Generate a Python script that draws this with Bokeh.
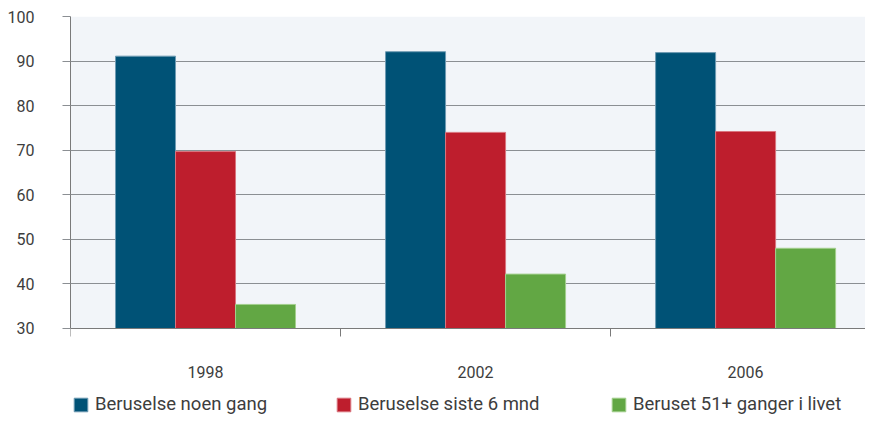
from bokeh.plotting import figure
from bokeh.models import Range1d, FixedTicker, Legend, LegendItem, BoxAnnotation
from bokeh.embed import file_html
from bokeh.resources import INLINE

years = ["1998", "2002", "2006"]
series_names = ["Beruselse noen gang", "Beruselse siste 6 mnd", "Beruset 51+ ganger i livet"]
noen_gang = [91.1, 92.1, 91.9]
siste_6_mnd = [69.7, 74.0, 74.2]
beruset_51 = [35.4, 42.2, 48.0]
y_ticks = [30, 40, 50, 60, 70, 80, 90, 100]
y_min, y_max = 30, 100

colors = ["#005276", "#be1e2d", "#62a744"]
edge_colors = ["#6f9bb3", "#d9757e", "#a3cf8d"]
FONT = "Roboto"
TEXT = "#3d3d3d"
GRID = "#8b8f93"
AXIS = "#7a7a7a"

# frame extends below the value axis so the category labels and legend live inside it
p = figure(width=865, height=417, output_backend="svg", toolbar_location=None,
           x_range=Range1d(0, 2.944), y_range=Range1d(10.03, y_max),
           min_border_left=70, min_border_right=0, min_border_top=16, min_border_bottom=0)
p.background_fill_color = "white"
p.border_fill_color = "white"
p.outline_line_color = None

p.add_layout(BoxAnnotation(bottom=y_min, top=y_max, fill_color="#f2f5f9", fill_alpha=1,
                           line_color=None, level="image"))

bw = 0.2222
renderers = []
for i, (vals, c, ec) in enumerate(zip([noen_gang, siste_6_mnd, beruset_51], colors, edge_colors)):
    xs = [k + 0.5 + (i - 1) * bw for k in range(len(years))]
    r = p.vbar(x=xs, top=vals, bottom=y_min, width=bw, fill_color=c, line_color=ec, line_width=1)
    renderers.append(r)

# x axis, pinned at the value-axis baseline
xa = p.xaxis[0]
xa.fixed_location = y_min
xa.ticker = FixedTicker(ticks=[k + 0.5 for k in range(len(years))], minor_ticks=[0, 1, 2, 3])
xa.major_label_overrides = {k + 0.5: y for k, y in enumerate(years)}
xa.major_tick_line_color = None
xa.major_tick_out = 8
xa.major_tick_in = 0
xa.minor_tick_out = 8
xa.minor_tick_in = 0
xa.minor_tick_line_color = AXIS
xa.axis_line_color = AXIS
xa.major_label_standoff = 30
xa.major_label_text_font = FONT
xa.major_label_text_font_size = "16px"
xa.major_label_text_color = TEXT

# y axis
ya = p.yaxis[0]
ya.bounds = (y_min, y_max)
ya.ticker = FixedTicker(ticks=y_ticks)
ya.major_tick_out = 8
ya.major_tick_in = 0
ya.major_tick_line_color = GRID
ya.minor_tick_line_color = None
ya.axis_line_color = AXIS
ya.major_label_standoff = 28
ya.major_label_text_font = FONT
ya.major_label_text_font_size = "16px"
ya.major_label_text_color = TEXT

p.xgrid.grid_line_color = None
p.ygrid.ticker = FixedTicker(ticks=y_ticks)
p.ygrid.grid_line_color = GRID
p.ygrid.grid_line_width = 1

legend_x = [2, 265, 540]
for name, r, lx in zip(series_names, renderers, legend_x):
    lg = Legend(items=[LegendItem(label=name, renderers=[r])], location=(lx, 2),
                orientation="horizontal", padding=0, margin=0,
                border_line_color=None, background_fill_alpha=0,
                glyph_width=17, glyph_height=17, label_height=17, label_standoff=6,
                label_text_font=FONT, label_text_font_size="18.5px", label_text_color=TEXT)
    p.add_layout(lg, "center")

open("out.html", "w").write(file_html(p, INLINE))
